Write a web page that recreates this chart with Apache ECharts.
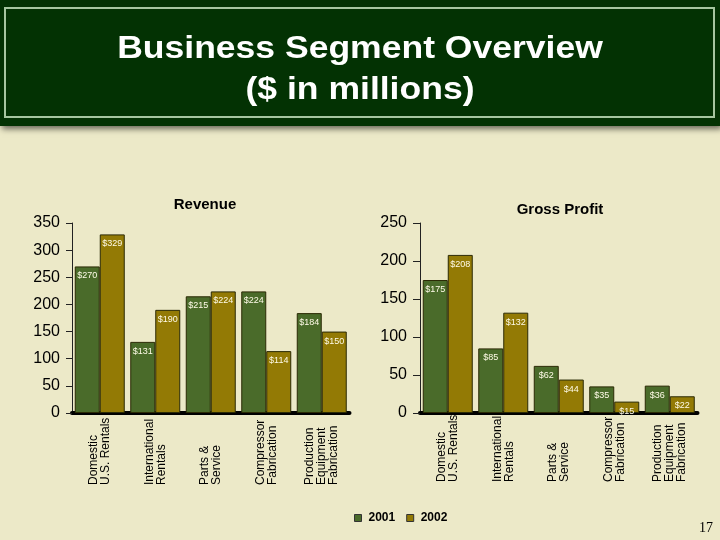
<!DOCTYPE html>
<html><head><meta charset="utf-8">
<script src="https://cdn.jsdelivr.net/npm/echarts@6/dist/echarts.min.js"></script>
<style>html,body{margin:0;padding:0;background:#ece9c8}#c{width:720px;height:540px}</style>
</head><body><div id="c"></div>
<script>
const categories = ['Domestic\nU.S. Rentals', 'International\nRentals', 'Parts &\nService', 'Compressor\nFabrication', 'Production\nEquipment\nFabrication'];
const seriesNames = ['2001', '2002'];
const revenue2001 = [270, 131, 215, 224, 184];
const revenue2002 = [329, 190, 224, 114, 150];
const gross2001 = [175, 85, 62, 35, 36];
const gross2002 = [208, 132, 44, 15, 22];
const revenueAxis = { min: 0, max: 350, interval: 50 };
const grossAxis = { min: 0, max: 250, interval: 50 };

const FONT = 'Liberation Sans, Arial, sans-serif';
const GREEN = '#4a6b2a';
const GOLD = '#937a05';

const chart = echarts.init(document.getElementById('c'), null, { renderer: 'canvas' });

function xAx(gi, margin) {
  return {
    type: 'category', gridIndex: gi, data: categories,
    axisLine: { lineStyle: { color: '#000', width: 4 } },
    axisTick: { show: false },
    axisLabel: { rotate: 90, align: 'left', margin: margin, interval: 0, fontSize: 12, lineHeight: 12, color: '#000', fontFamily: FONT }
  };
}
function yAx(gi, cfg, margin, tick) {
  return {
    type: 'value', gridIndex: gi, min: cfg.min, max: cfg.max, interval: cfg.interval,
    splitLine: { show: false },
    axisLine: { show: true, lineStyle: { color: '#222', width: 1 } },
    axisTick: { show: true, length: tick, lineStyle: { color: '#222' } },
    axisLabel: { fontSize: 16, margin: margin, color: '#000', fontFamily: FONT }
  };
}
function bar(name, data, gi, color) {
  return {
    name: name, type: 'bar', xAxisIndex: gi, yAxisIndex: gi, data: data,
    barWidth: 25, barGap: '0%',
    itemStyle: { color: color, borderColor: '#2b2a05', borderWidth: 1 },
    label: {
      show: true, position: 'insideTop', distance: 5, fontSize: 9, color: '#fffbe8', fontFamily: FONT,
      formatter: p => '$' + p.value
    }
  };
}

chart.setOption({
  backgroundColor: '#ece9c8',
  textStyle: { fontFamily: FONT },
  animation: false,
  title: [
    { text: 'Revenue', left: 200, top: 192, textAlign: 'center', textStyle: { fontSize: 15, fontWeight: 'bold', color: '#000', fontFamily: FONT } },
    { text: 'Gross Profit', left: 555, top: 197, textAlign: 'center', textStyle: { fontSize: 15, fontWeight: 'bold', color: '#000', fontFamily: FONT } }
  ],
  legend: {
    data: seriesNames, left: 349, top: 507, itemWidth: 7, itemHeight: 7, itemGap: 11, icon: 'rect',
    itemStyle: { borderColor: '#333', borderWidth: 1 },
    textStyle: { fontSize: 12, fontWeight: 'bold', color: '#000', fontFamily: FONT, padding: [0, 0, 0, 2] }
  },
  grid: [
    { left: 72, top: 223, width: 277.5, bottom: 127 },
    { left: 420, top: 223, width: 277.5, bottom: 127 }
  ],
  xAxis: [xAx(0, 72), xAx(1, 69)],
  yAxis: [yAx(0, revenueAxis, 12, 6), yAx(1, grossAxis, 13, 7)],
  series: [
    bar(seriesNames[0], revenue2001, 0, GREEN),
    bar(seriesNames[1], revenue2002, 0, GOLD),
    bar(seriesNames[0], gross2001, 1, GREEN),
    bar(seriesNames[1], gross2002, 1, GOLD)
  ],
  graphic: [
    { type: 'rect', z: 0, shape: { x: 0, y: 0, width: 720, height: 126 },
      style: { fill: '#033203', shadowBlur: 6, shadowOffsetY: 3, shadowOffsetX: 2, shadowColor: 'rgba(0,0,0,0.55)' } },
    { type: 'rect', z: 1, shape: { x: 5, y: 8, width: 709, height: 109 },
      style: { fill: 'none', stroke: '#a6c6a0', lineWidth: 2 } },
    { type: 'text', z: 2, x: 360, y: 49.5, scaleX: 1.11,
      style: { text: 'Business Segment Overview', fill: '#fff', font: 'bold 32px ' + FONT, textAlign: 'center', textVerticalAlign: 'middle' } },
    { type: 'text', z: 2, x: 360, y: 90, scaleX: 1.11,
      style: { text: '($ in millions)', fill: '#fff', font: 'bold 32px ' + FONT, textAlign: 'center', textVerticalAlign: 'middle' } },
    { type: 'text', z: 2, x: 706, y: 528,
      style: { text: '17', fill: '#000', font: '14px Liberation Serif, Times New Roman, serif', textAlign: 'center', textVerticalAlign: 'middle' } }
  ]
});
</script>
</body></html>
